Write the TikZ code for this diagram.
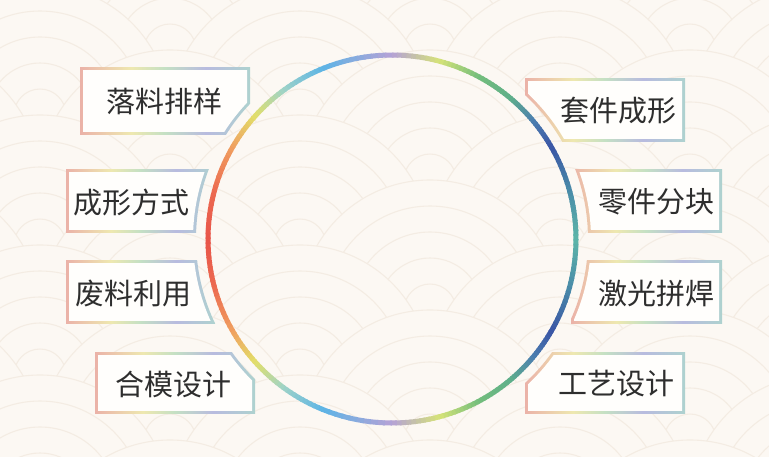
\documentclass[tikz,border=0pt]{standalone}
\usepackage{fontspec}
\newfontfamily\cjk{Noto Sans CJK SC}
\definecolor{bgc}{HTML}{FCF8F3}
\definecolor{wavec}{HTML}{F4ECE3}
\definecolor{boxfill}{HTML}{FFFEFC}
\definecolor{txt}{HTML}{2E2E2E}
\definecolor{gp}{HTML}{EBB2A8}
\definecolor{gy}{HTML}{EEE8B0}
\definecolor{gg}{HTML}{C4E0C4}
\definecolor{gl}{HTML}{B8BBDF}
\definecolor{gt}{HTML}{AED2CF}
\definecolor{cR}{HTML}{E8554A}
\definecolor{cRO}{HTML}{EC6A50}
\definecolor{cO}{HTML}{F0A060}
\definecolor{cY}{HTML}{E2DF6A}
\definecolor{cC}{HTML}{9ED3C8}
\definecolor{cS}{HTML}{5DB4E6}
\definecolor{cP}{HTML}{B5A2D6}
\definecolor{cYG}{HTML}{D6E378}
\definecolor{cG}{HTML}{74BE7C}
\definecolor{cGT}{HTML}{5FAF8A}
\definecolor{cTB}{HTML}{4C7FB0}
\definecolor{cDB}{HTML}{3A55A5}
\definecolor{cBT}{HTML}{4A8CA8}
\definecolor{cT}{HTML}{5CB5A8}
\pgfdeclarehorizontalshading{boxgrad}{100bp}{color(0bp)=(gp); color(25bp)=(gp); color(40bp)=(gy); color(50bp)=(gg); color(62bp)=(gl); color(75bp)=(gt); color(100bp)=(gt)}
\newcommand\drawbox[4]{%
  \begin{scope}[even odd rule]
    \clip (#1,#2) rectangle (#3,#4);
    \clip (-10,-10) rectangle (780,470) (392,239) circle (196);
    \shade[shading=boxgrad] (#1,#2) rectangle (#3,#4);
  \end{scope}
  \begin{scope}[even odd rule]
    \clip (#1+3,#2+3) rectangle (#3-3,#4-3);
    \clip (-10,-10) rectangle (780,470) (392,239) circle (199);
    \fill[boxfill] (#1,#2) rectangle (#3,#4);
  \end{scope}}
\tikzset{
  lbl/.style={font=\cjk\fontsize{29}{29}\selectfont, text=txt, inner sep=0pt},
  wave/.style={draw=wavec, line width=1.1pt}
}
\begin{document}
\begin{tikzpicture}[x=1pt,y=-1pt]
\useasboundingbox (0,0) rectangle (769,456);
\fill[bgc] (0,0) rectangle (769,456);
% seigaiha background
\begin{scope}
  \clip (0,0) rectangle (769,456);
  \foreach \r in {0,...,10}{
    \foreach \c in {0,...,4}{
      \pgfmathsetmacro\cx{\c*260 + mod(\r,2)*130 - 90}
      \pgfmathsetmacro\cy{\r*65 - 80}
      \fill[bgc] (\cx,\cy) circle (130);
      \foreach \rr in {130,104,78,52,26}{
        \draw[wave] (\cx,\cy) circle (\rr);
      }
    }
  }
\end{scope}
% gradient ring
\coordinate (C) at (392,239);
\foreach \a/\ca/\b/\cb in {-180/cR/-165/cRO, -165/cRO/-150/cO, -150/cO/-138/cY, -138/cY/-126/cC, -126/cC/-112/cS, -112/cS/-90/cP, -90/cP/-75/cYG, -75/cYG/-62/cG, -62/cG/-50/cGT, -50/cGT/-40/cTB, -40/cTB/-30/cDB, -30/cDB/-15/cBT, -15/cBT/0/cT, 0/cT/15/cBT, 15/cBT/30/cDB, 30/cDB/40/cTB, 40/cTB/50/cGT, 50/cGT/62/cG, 62/cG/75/cYG, 75/cYG/90/cP, 90/cP/112/cS, 112/cS/126/cC, 126/cC/138/cY, 138/cY/150/cO, 150/cO/165/cRO, 165/cRO/180/cR}{
  \foreach \k in {0,...,9}{
    \pgfmathsetmacro\ang{\a+(\b-\a)*\k/10}
    \pgfmathsetmacro\en{\a+(\b-\a)*(\k+1)/10+0.5}
    \pgfmathtruncatemacro\p{100-100*(\k+0.5)/10}
    \draw[line width=5pt, color=\ca!\p!\cb] (C) ++(\ang:184) arc[start angle=\ang, end angle=\en, radius=184];
  }
}
% boxes
\drawbox{80}{67}{250}{134}
\drawbox{525}{78}{685}{141}
\drawbox{66}{169}{215}{232}
\drawbox{66}{260}{215}{323}
\drawbox{95}{352}{255}{413}
\drawbox{570}{169}{722}{232}
\drawbox{571}{260}{722}{323}
\drawbox{525}{352}{685}{413}
% labels
\node[lbl] (t1) at (164,101) {落料排样};
\node[lbl] (t2) at (618,111) {套件成形};
\node[lbl] (t3) at (131,202) {成形方式};
\node[lbl] (t4) at (133,294) {废料利用};
\node[lbl] (t5) at (173,384) {合模设计};
\node[lbl] (t6) at (656,202) {零件分块};
\node[lbl] (t7) at (656,294) {激光拼焊};
\node[lbl] (t8) at (616,384) {工艺设计};
\end{tikzpicture}
\end{document}
